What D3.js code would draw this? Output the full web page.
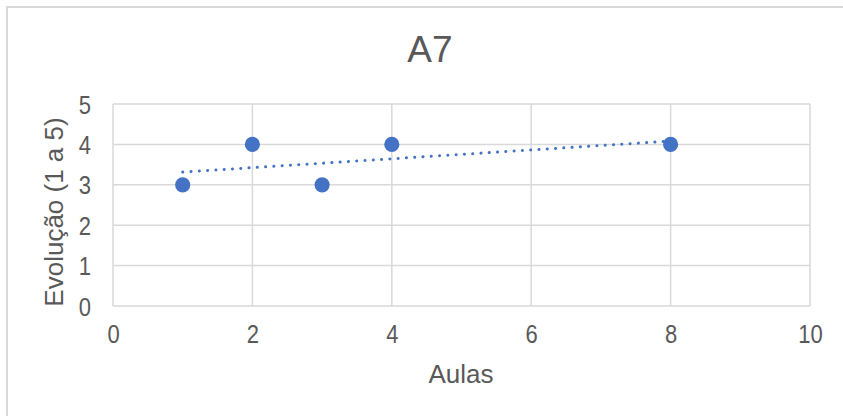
<!DOCTYPE html>
<html>
<head>
<meta charset="utf-8">
<script src="https://cdn.jsdelivr.net/npm/d3@7"></script>
<style>
  html, body { margin: 0; padding: 0; background: #fff; }
  svg { display: block; font-family: "Liberation Sans", Arial, sans-serif; }
</style>
</head>
<body>
<svg id="chart" width="843" height="416"></svg>
<script>
// Scatter data: lesson number vs. evolution score
const aulas = [1, 2, 3, 4, 8];
const evolucao = [3, 4, 3, 4, 4];
const xTicks = [0, 2, 4, 6, 8, 10];
const yTicks = [0, 1, 2, 3, 4, 5];
const chartTitle = "A7";
const xTitle = "Aulas";
const yTitle = "Evolução (1 a 5)";

const svg = d3.select("#chart");
const W = 843, H = 416;
const plot = { left: 113, right: 810, top: 104, bottom: 306 };

const x = d3.scaleLinear().domain([0, 10]).range([plot.left, plot.right]);
const y = d3.scaleLinear().domain([0, 5]).range([plot.bottom, plot.top]);

const grid = "#d9d9d9";
const text = "#595959";
const blue = "#4472c4";
const font = "Liberation Sans, Arial, sans-serif";
const squeeze = 0.88; // slightly condensed tick digits

// Chart frame (only left and top edges fall inside the canvas)
svg.append("rect")
  .attr("x", 7).attr("y", 7)
  .attr("width", W + 10).attr("height", H + 10)
  .attr("fill", "#fff").attr("stroke", grid).attr("stroke-width", 2);

// Gridlines
svg.append("g").selectAll("line").data(yTicks).join("line")
  .attr("x1", plot.left).attr("x2", plot.right)
  .attr("y1", d => y(d)).attr("y2", d => y(d))
  .attr("stroke", grid).attr("stroke-width", 1.5);
svg.append("g").selectAll("line").data(xTicks).join("line")
  .attr("y1", plot.top).attr("y2", plot.bottom)
  .attr("x1", d => x(d)).attr("x2", d => x(d))
  .attr("stroke", grid).attr("stroke-width", 1.5);

// Tick labels through d3 axes
const xAxis = svg.append("g")
  .attr("transform", `translate(0,${plot.bottom})`)
  .call(d3.axisBottom(x).tickValues(xTicks).tickFormat(d3.format("d"))
    .tickSize(0).tickPadding(19));
const yAxis = svg.append("g")
  .attr("transform", `translate(${plot.left},0)`)
  .call(d3.axisLeft(y).tickValues(yTicks).tickFormat(d3.format("d"))
    .tickSize(0).tickPadding(22));
[xAxis, yAxis].forEach(a => {
  a.attr("font-size", null).attr("font-family", null);
  a.select(".domain").remove();
  a.selectAll("text")
    .attr("fill", text)
    .attr("transform", `scale(${squeeze},1)`)
    .style("font-size", "25px")
    .style("font-family", font);
});
xAxis.selectAll("text").attr("dy", "0.71em");
yAxis.selectAll("text").attr("dy", "0.36em").attr("x", -22 / squeeze);

// Linear trendline (least squares fit)
const mx = d3.mean(aulas), my = d3.mean(evolucao);
const sxy = d3.sum(aulas, (d, i) => (d - mx) * (evolucao[i] - my));
const sxx = d3.sum(aulas, d => (d - mx) * (d - mx));
const slope = sxy / sxx, intercept = my - slope * mx;
const [x0, x1] = d3.extent(aulas);
svg.append("line")
  .attr("x1", x(x0)).attr("y1", y(intercept + slope * x0))
  .attr("x2", x(x1)).attr("y2", y(intercept + slope * x1))
  .attr("stroke", blue).attr("stroke-width", 3)
  .attr("stroke-linecap", "round")
  .attr("stroke-dasharray", "0.1 8.2");

// Points
svg.append("g").selectAll("circle").data(aulas).join("circle")
  .attr("cx", d => x(d))
  .attr("cy", (d, i) => y(evolucao[i]))
  .attr("r", 7.6)
  .attr("fill", blue);

// Titles
svg.append("text")
  .attr("x", 430).attr("y", 62)
  .attr("text-anchor", "middle")
  .style("font-size", "37px").style("font-family", font)
  .attr("fill", text)
  .text(chartTitle);
svg.append("text")
  .attr("x", 461).attr("y", 383)
  .attr("text-anchor", "middle")
  .style("font-size", "26px").style("font-family", font)
  .attr("fill", text)
  .text(xTitle);
svg.append("text")
  .attr("transform", "translate(63,212) rotate(-90)")
  .attr("text-anchor", "middle")
  .style("font-size", "26px").style("font-family", font)
  .attr("fill", text)
  .text(yTitle);
</script>
</body>
</html>
